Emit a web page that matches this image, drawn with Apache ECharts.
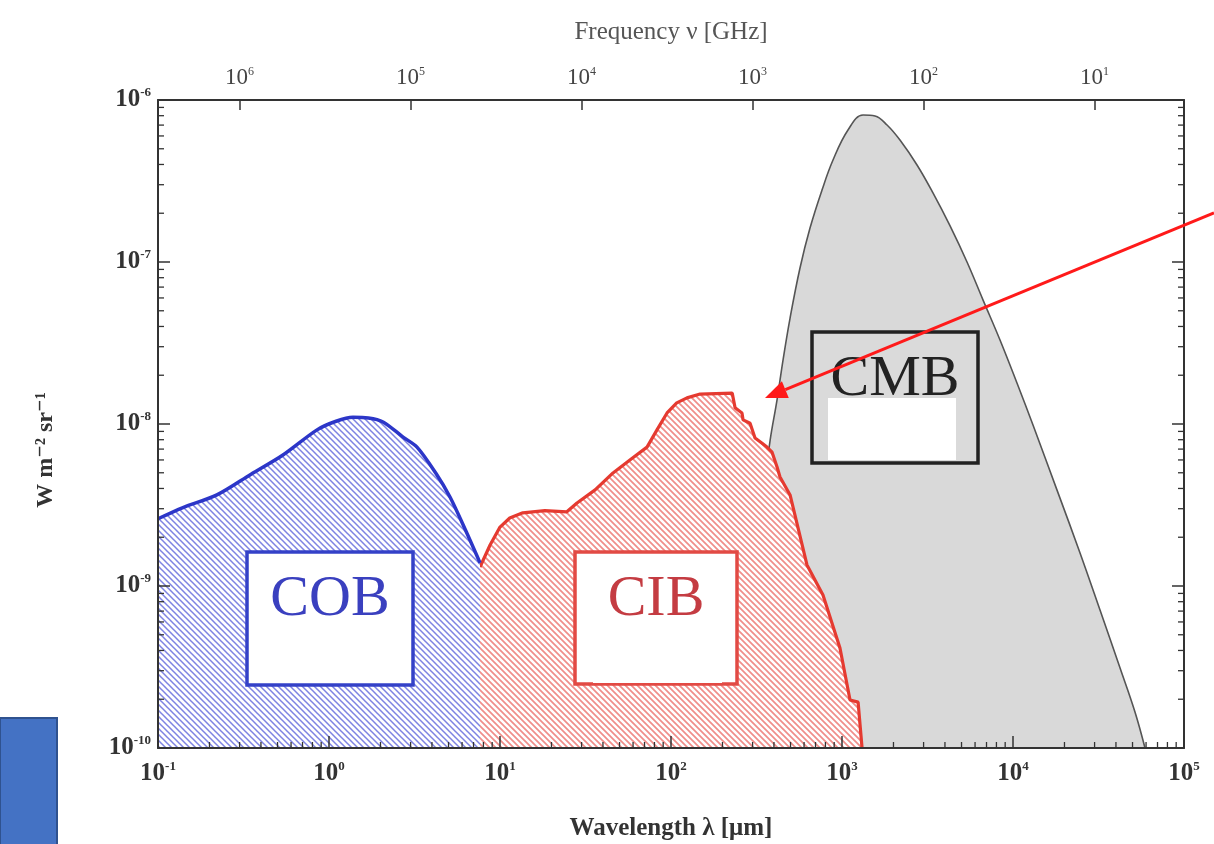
<!DOCTYPE html>
<html>
<head>
<meta charset="utf-8">
<title>Extragalactic background light</title>
<script src="https://cdn.jsdelivr.net/npm/echarts@6/dist/echarts.min.js"></script>
<style>
  html, body { margin: 0; padding: 0; background: #ffffff; }
  #chart { width: 1214px; height: 844px; }
</style>
</head>
<body>
<div id="chart"></div>
<script>
// Wavelength λ in μm, brightness νIν in W m^-2 sr^-1

// Cosmic optical background
const cobWavelength = [0.1, 0.14, 0.221, 0.35, 0.538, 0.851, 1.1, 1.38, 1.7, 2.07, 2.71, 3.27, 4.2, 5.1, 6.3, 7.64];
const cobBrightness = [2.6e-9, 3.05e-9, 3.65e-9, 4.9e-9, 6.44e-9, 9.2e-9, 1.04e-8, 1.1e-8, 1.09e-8, 1.03e-8, 8.3e-9, 7.2e-9, 5.0e-9, 3.54e-9, 2.2e-9, 1.39e-9];

// Cosmic infrared background
const cibWavelength = [7.64, 8.75, 10, 11.4, 13.6, 18.3, 24.6, 28.2, 36.0, 45.8, 57.5, 72.4, 82.8, 94.8, 108, 124, 148, 228, 237, 260, 264, 290, 310, 341, 364, 390, 417, 434, 497, 624, 774, 973, 1114, 1242, 1310];
const cibBrightness = [1.31e-9, 1.79e-9, 2.31e-9, 2.63e-9, 2.83e-9, 2.92e-9, 2.87e-9, 3.25e-9, 3.92e-9, 4.99e-9, 6.0e-9, 7.2e-9, 9.2e-9, 1.17e-8, 1.35e-8, 1.45e-8, 1.53e-8, 1.55e-8, 1.26e-8, 1.17e-8, 1.06e-8, 1.01e-8, 8.2e-9, 7.6e-9, 7.2e-9, 6.7e-9, 5.43e-9, 4.71e-9, 3.65e-9, 1.35e-9, 8.8e-10, 4.14e-10, 1.98e-10, 1.92e-10, 1.0e-10];

// Cosmic microwave background
const cmbWavelength = [282, 298, 323, 355, 380, 417, 452, 497, 568, 650, 764, 886, 1084, 1327, 1560, 1834, 2183, 2746, 3404, 4285, 5383, 6683, 8395, 10550, 13090, 18070, 24660, 32270, 42270, 51680, 59150];
const cmbBrightness = [1.0e-10, 4.03e-10, 1.45e-9, 4.51e-9, 7.96e-9, 1.41e-8, 2.48e-8, 4.51e-8, 9.18e-8, 1.62e-7, 2.78e-7, 4.26e-7, 6.53e-7, 8.08e-7, 7.96e-7, 7.01e-7, 5.66e-7, 3.97e-7, 2.67e-7, 1.67e-7, 1.0e-7, 5.82e-8, 3.3e-8, 1.79e-8, 9.86e-9, 3.92e-9, 1.6e-9, 7.11e-10, 3.12e-10, 1.67e-10, 1.0e-10];

// Axis ranges and labels
const wavelengthRange = [0.1, 1e5];     // μm
const frequencyRange = [3, 3e6];        // GHz, ν = 3e5 / λ
const brightnessRange = [1e-10, 1e-6];
const regionLabels = ['COB', 'CIB', 'CMB'];
const xAxisTitle = 'Wavelength λ [μm]';
const topAxisTitle = 'Frequency ν [GHz]';
const yAxisTitle = 'W m⁻² sr⁻¹';

const serif = "'Liberation Serif', 'DejaVu Serif', serif";

function zip(xs, ys) { return xs.map((x, i) => [x, ys[i]]); }

// diagonal hatch pattern on a white ground
function hatch(color, width) {
  const s = 6;
  const c = document.createElement('canvas');
  c.width = s; c.height = s;
  const g = c.getContext('2d');
  g.fillStyle = '#ffffff';
  g.fillRect(0, 0, s, s);
  g.strokeStyle = color;
  g.lineWidth = width;
  g.beginPath();
  g.moveTo(-1, -1); g.lineTo(s + 1, s + 1);
  g.moveTo(-1, s - 1); g.lineTo(1, s + 1);
  g.moveTo(s - 1, -1); g.lineTo(s + 1, 1);
  g.stroke();
  return c;
}

// power-of-ten tick label as rich text
function powLabel(v) {
  const e = Math.log10(v);
  const r = Math.round(e);
  if (Math.abs(e - r) > 1e-6) return '';
  return '{b|10}{s|' + r + '}';
}

const labelRich = {
  b: { fontFamily: serif, fontSize: 25, fontWeight: 'bold', color: '#333333' },
  s: { fontFamily: serif, fontSize: 13, fontWeight: 'bold', color: '#333333', padding: [0, 0, 14, 0] }
};
const topRich = {
  b: { fontFamily: serif, fontSize: 23, color: '#444444' },
  s: { fontFamily: serif, fontSize: 12, color: '#444444', padding: [0, 0, 12, 0] }
};

// minor ticks at 2..9 within each decade, on bottom (0), left (1) and right (2) edges
const minorTicks = [];
for (let d = -1; d < 5; d++) {
  for (let k = 2; k <= 9; k++) minorTicks.push([k * Math.pow(10, d), brightnessRange[0], 0]);
}
for (let d = -10; d < -6; d++) {
  for (let k = 2; k <= 9; k++) {
    minorTicks.push([wavelengthRange[0], k * Math.pow(10, d), 1]);
    minorTicks.push([wavelengthRange[1], k * Math.pow(10, d), 2]);
  }
}

const axisLineStyle = { color: '#333333', width: 2 };
const tickStyle = { color: '#333333', width: 1.5 };

const chart = echarts.init(document.getElementById('chart'), null, { renderer: 'canvas' });

// arrow pointing at the CIB/CMB crossover
const arrowFrom = [1214, 213];
const arrowTo = [765, 398];
const ax = arrowTo[0] - arrowFrom[0], ay = arrowTo[1] - arrowFrom[1];
const alen = Math.hypot(ax, ay);
const ux = ax / alen, uy = ay / alen;
const headLen = 22, headHalf = 9;
const base = [arrowTo[0] - ux * headLen, arrowTo[1] - uy * headLen];
const arrowHead = [
  arrowTo,
  [base[0] - uy * headHalf, base[1] + ux * headHalf],
  [base[0] + uy * headHalf, base[1] - ux * headHalf]
];

function labelBox(x, y, w, h, stroke, fill) {
  return { type: 'rect', z: 100, shape: { x: x, y: y, width: w, height: h },
           style: { fill: fill, stroke: stroke, lineWidth: 3.5 } };
}
function labelText(text, x, y, color) {
  return { type: 'text', z: 102, x: x, y: y,
           style: { text: text, font: '58px ' + serif, fill: color, align: 'center', verticalAlign: 'middle' } };
}
function whitePatch(x, y, w, h) {
  return { type: 'rect', z: 101, shape: { x: x, y: y, width: w, height: h }, style: { fill: '#ffffff' } };
}

chart.setOption({
  animation: false,
  backgroundColor: '#ffffff',
  grid: { left: 158, right: 30, top: 100, bottom: 96, containLabel: false, outerBoundsMode: 'none' },
  xAxis: [
    {
      type: 'log', logBase: 10, min: wavelengthRange[0], max: wavelengthRange[1],
      position: 'bottom', z: 10,
      name: xAxisTitle, nameLocation: 'middle', nameGap: 68,
      nameTextStyle: { fontFamily: serif, fontSize: 25, fontWeight: 'bold', color: '#333333' },
      axisLine: { lineStyle: axisLineStyle },
      axisTick: { inside: true, length: 12, lineStyle: tickStyle },
      axisLabel: { formatter: powLabel, rich: labelRich, margin: 12 },
      splitLine: { show: false }
    },
    {
      type: 'log', logBase: 10, min: frequencyRange[0], max: frequencyRange[1],
      position: 'top', inverse: true, z: 10,
      name: topAxisTitle, nameLocation: 'middle', nameGap: 55,
      nameTextStyle: { fontFamily: serif, fontSize: 25, color: '#555555' },
      axisLine: { lineStyle: axisLineStyle },
      axisTick: { inside: true, length: 10, lineStyle: tickStyle },
      axisLabel: { formatter: powLabel, rich: topRich, margin: 10 },
      splitLine: { show: false }
    }
  ],
  yAxis: [
    {
      type: 'log', logBase: 10, min: brightnessRange[0], max: brightnessRange[1],
      position: 'left', z: 10,
      name: yAxisTitle, nameLocation: 'middle', nameGap: 100, nameRotate: 90,
      nameTextStyle: { fontFamily: serif, fontSize: 24, fontWeight: 'bold', color: '#333333', padding: [0, 52, 0, 0] },
      axisLine: { lineStyle: axisLineStyle },
      axisTick: { inside: true, length: 12, lineStyle: tickStyle },
      axisLabel: { formatter: powLabel, rich: labelRich, margin: 7 },
      splitLine: { show: false }
    },
    {
      type: 'log', logBase: 10, min: brightnessRange[0], max: brightnessRange[1],
      position: 'right', z: 10,
      axisLine: { lineStyle: axisLineStyle },
      axisTick: { inside: true, length: 12, lineStyle: tickStyle },
      axisLabel: { show: false },
      splitLine: { show: false }
    }
  ],
  series: [
    {
      name: regionLabels[2], type: 'line', z: 2,
      data: zip(cmbWavelength, cmbBrightness),
      smooth: 0.4, showSymbol: false, silent: true,
      lineStyle: { color: '#555555', width: 1.6 },
      areaStyle: { color: '#d9d9d9', opacity: 1, origin: 'start' }
    },
    {
      name: regionLabels[1], type: 'line', z: 3,
      data: zip(cibWavelength, cibBrightness),
      smooth: false, showSymbol: false, silent: true,
      lineStyle: { color: '#e53a30', width: 3.2 },
      areaStyle: { color: { image: hatch('#f08e8a', 1.7), repeat: 'repeat' }, opacity: 1, origin: 'start' }
    },
    {
      name: regionLabels[0], type: 'line', z: 4,
      data: zip(cobWavelength, cobBrightness),
      smooth: 0.3, showSymbol: false, silent: true,
      lineStyle: { color: '#2c36c8', width: 3.5 },
      areaStyle: { color: { image: hatch('#7e83e2', 1.5), repeat: 'repeat' }, opacity: 1, origin: 'start' }
    },
    {
      type: 'custom', coordinateSystem: 'cartesian2d', xAxisIndex: 0, yAxisIndex: 0,
      z: 20, silent: true, clip: false,
      data: minorTicks,
      encode: { x: 0, y: 1 },
      renderItem: function (params, api) {
        const p = api.coord([api.value(0), api.value(1)]);
        const side = api.value(2);
        const L = 6;
        let q;
        if (side === 0) q = [p[0], p[1] - L];
        else if (side === 1) q = [p[0] + L, p[1]];
        else q = [p[0] - L, p[1]];
        return { type: 'line', shape: { x1: p[0], y1: p[1], x2: q[0], y2: q[1] },
                 style: { stroke: '#333333', lineWidth: 1.3 } };
      }
    }
  ],
  graphic: [
    labelBox(247, 552, 166, 133, '#3441c8', '#ffffff'),
    whitePatch(270, 622, 128, 60),
    labelText(regionLabels[0], 330, 600, '#3a40bf'),

    labelBox(575, 552, 162, 132, '#e24a44', '#ffffff'),
    whitePatch(593, 623, 129, 60),
    labelText(regionLabels[1], 656, 600, '#c43c42'),

    labelBox(812, 332, 166, 131, '#222222', '#dadada'),
    whitePatch(828, 398, 128, 62),
    labelText(regionLabels[2], 895, 380, '#222222'),

    { type: 'line', z: 110, shape: { x1: arrowFrom[0], y1: arrowFrom[1], x2: base[0], y2: base[1] },
      style: { stroke: '#ff1a1a', lineWidth: 3 } },
    { type: 'polygon', z: 110, shape: { points: arrowHead }, style: { fill: '#ff1a1a' } },

    { type: 'rect', z: 120, shape: { x: 0, y: 718, width: 57, height: 130 },
      style: { fill: '#4472c4', stroke: '#2f528f', lineWidth: 2 } }
  ]
});
</script>
</body>
</html>
